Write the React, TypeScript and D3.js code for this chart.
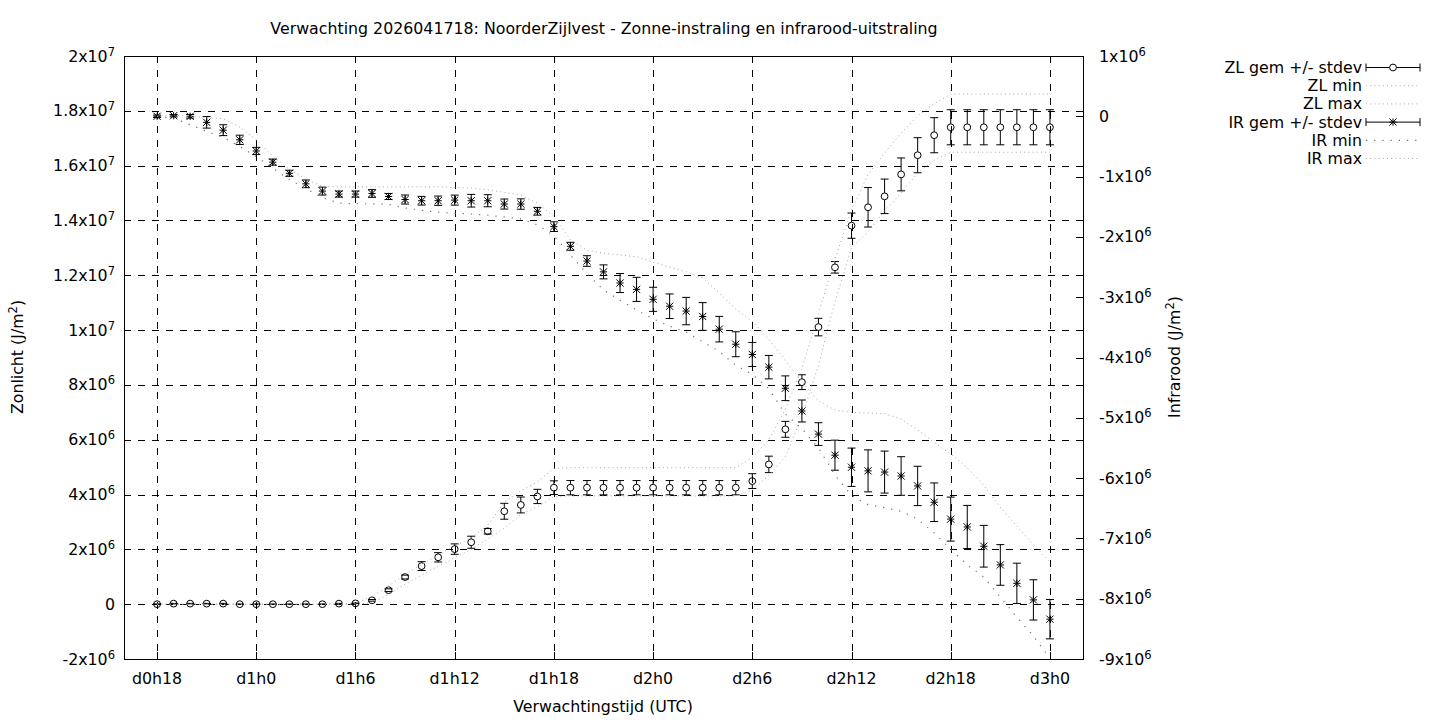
import React from 'react';
import * as d3 from 'd3';

const UNIT = 1e6;
const FONT = '"DejaVu Sans", Verdana, sans-serif';
const FS = 15.8;
const FS_SUP = 11.5;

const TITLE = 'Verwachting 2026041718: NoorderZijlvest - Zonne-instraling en infrarood-uitstraling';

// forecast hours since d0h0
const hours = [
  18, 19, 20, 21, 22, 23, 24, 25, 26, 27, 28, 29, 30, 31, 32, 33, 34, 35, 36,
  37, 38, 39, 40, 41, 42, 43, 44, 45, 46, 47, 48, 49, 50, 51, 52, 53, 54, 55,
  56, 57, 58, 59, 60, 61, 62, 63, 64, 65, 66, 67, 68, 69, 70, 71, 72,
];

// Zonlicht (x 1e6 J/m2)
const zlMean = [
  0, 0.02, 0.02, 0.02, 0.02, 0, 0, 0, 0, 0, 0, 0.02, 0.03, 0.14, 0.51, 0.99, 1.39, 1.71, 2.01,
  2.26, 2.66, 3.39, 3.62, 3.93, 4.25, 4.25, 4.25, 4.25, 4.25, 4.25, 4.25, 4.25, 4.25, 4.25, 4.25, 4.25, 4.49, 5.10,
  6.38, 8.10, 10.11, 12.29, 13.81, 14.48, 14.88, 15.68, 16.38, 17.11, 17.40, 17.40, 17.40, 17.40, 17.40, 17.40, 17.40,
];
const zlSd = [
  0.01, 0.01, 0.01, 0.01, 0.01, 0.01, 0.01, 0.01, 0.01, 0.01, 0.01, 0.01, 0.01, 0.03, 0.05, 0.07, 0.16, 0.17, 0.19,
  0.22, 0.10, 0.29, 0.29, 0.26, 0.25, 0.26, 0.26, 0.26, 0.26, 0.26, 0.26, 0.26, 0.26, 0.26, 0.26, 0.26, 0.27, 0.30,
  0.29, 0.27, 0.32, 0.21, 0.46, 0.72, 0.63, 0.60, 0.64, 0.64, 0.64, 0.64, 0.64, 0.64, 0.64, 0.64, 0.64,
];
const zlMin = [
  0, 0, 0, 0, 0, 0, 0, 0, 0, 0, 0, 0, 0, 0.05, 0.36, 0.73, 1.06, 1.39, 1.70,
  2.00, 2.38, 2.77, 3.27, 3.55, 3.92, 3.95, 3.95, 3.95, 3.95, 3.95, 3.95, 3.95, 3.95, 3.95, 3.95, 3.95, 4.17, 4.70,
  5.38, 6.84, 8.72, 11.04, 13.00, 13.58, 14.35, 15.00, 15.73, 16.20, 16.49, 16.49, 16.49, 16.49, 16.49, 16.49, 16.49,
];
const zlMax = [
  0, 0, 0, 0, 0, 0, 0, 0, 0, 0, 0, 0.01, 0.03, 0.28, 0.66, 1.08, 1.45, 1.81, 2.12,
  2.42, 2.88, 3.72, 4.14, 4.46, 4.96, 4.98, 4.98, 4.98, 4.98, 4.98, 4.98, 4.98, 4.98, 4.98, 4.98, 4.98, 5.35, 6.00,
  7.12, 8.59, 10.60, 12.60, 14.37, 15.68, 16.46, 17.19, 17.81, 18.26, 18.61, 18.61, 18.61, 18.61, 18.61, 18.61, 18.61,
];

// Infrarood (x 1e6 J/m2)
const irMean = [
  0.0, 0.01, 0.0, -0.10, -0.23, -0.39, -0.575, -0.76, -0.945, -1.12, -1.24, -1.29, -1.29, -1.28, -1.33, -1.38, -1.40, -1.40, -1.39,
  -1.40, -1.40, -1.455, -1.455, -1.575, -1.83, -2.156, -2.40, -2.58, -2.765, -2.87, -3.035, -3.15, -3.23, -3.32, -3.53, -3.78, -3.95, -4.16,
  -4.51, -4.887, -5.27, -5.62, -5.82, -5.88, -5.90, -5.965, -6.13, -6.40, -6.68, -6.81, -7.13, -7.44, -7.745, -8.02, -8.34,
];
const irSd = [
  0.02, 0.02, 0.03, 0.096, 0.09, 0.077, 0.06, 0.05, 0.05, 0.064, 0.066, 0.05, 0.05, 0.064, 0.05, 0.075, 0.072, 0.077, 0.083,
  0.105, 0.10, 0.083, 0.086, 0.064, 0.08, 0.066, 0.088, 0.116, 0.158, 0.20, 0.20, 0.204, 0.227, 0.23, 0.212, 0.207, 0.20, 0.194,
  0.205, 0.182, 0.188, 0.249, 0.318, 0.348, 0.348, 0.32, 0.326, 0.32, 0.365, 0.357, 0.346, 0.337, 0.334, 0.334, 0.326,
];
const irMin = [
  0.0, -0.03, -0.14, -0.25, -0.35, -0.50, -0.67, -0.86, -1.05, -1.20, -1.35, -1.44, -1.45, -1.45, -1.46, -1.52, -1.56, -1.59, -1.61,
  -1.62, -1.64, -1.67, -1.70, -1.80, -1.98, -2.30, -2.61, -2.88, -3.05, -3.21, -3.36, -3.48, -3.58, -3.74, -3.90, -4.13, -4.28, -4.52,
  -4.94, -5.18, -5.50, -5.95, -6.29, -6.44, -6.49, -6.55, -6.68, -6.91, -7.18, -7.44, -7.64, -7.97, -8.31, -8.62, -8.99,
];
const irMax = [
  0.0, 0.02, 0.0, -0.02, -0.04, -0.18, -0.39, -0.66, -0.88, -1.04, -1.16, -1.17, -1.17, -1.17, -1.17, -1.17, -1.17, -1.17, -1.18,
  -1.19, -1.22, -1.26, -1.31, -1.44, -1.66, -2.05, -2.22, -2.27, -2.30, -2.33, -2.42, -2.50, -2.58, -2.68, -2.93, -3.20, -3.40, -3.70,
  -4.05, -4.40, -4.72, -4.87, -4.91, -4.92, -4.93, -5.02, -5.20, -5.41, -5.60, -5.83, -6.12, -6.48, -6.80, -7.10, -7.39,
];

const xTickHours = [18, 24, 30, 36, 42, 48, 54, 60, 66, 72];
const yLeftTicks = [-2e6, 0, 2e6, 4e6, 6e6, 8e6, 1e7, 1.2e7, 1.4e7, 1.6e7, 1.8e7, 2e7];
const yRightTicks = [-9e6, -8e6, -7e6, -6e6, -5e6, -4e6, -3e6, -2e6, -1e6, 0, 1e6];
const legendLabels = ['ZL gem +/- stdev', 'ZL min', 'ZL max', 'IR gem +/- stdev', 'IR min', 'IR max'];

const FINE_DOT = { stroke: '#a8a8a8', dash: '1,3.2' };
const COARSE_DOT = { stroke: '#707070', dash: '1.2,7' };

function sci(v: number) {
  if (v === 0) return { m: '0', e: '' };
  const e = Math.floor(Math.log10(Math.abs(v)) + 1e-9);
  const m = +(v / Math.pow(10, e)).toFixed(2);
  return { m: `${m}x10`, e: String(e) };
}

function hourLabel(h: number) {
  return `d${Math.floor(h / 24)}h${h % 24}`;
}

function Circle({ cx, cy }: { cx: number; cy: number }) {
  return <circle cx={cx} cy={cy} r={3.4} fill="none" stroke="#000" strokeWidth={1} />;
}

function Star({ cx, cy }: { cx: number; cy: number }) {
  const s = 3.6;
  const d = `M${cx - s},${cy}H${cx + s}M${cx},${cy - s}V${cy + s}M${cx - s},${cy - s}L${cx + s},${cy + s}M${cx - s},${cy + s}L${cx + s},${cy - s}`;
  return <path d={d} stroke="#000" strokeWidth={1} fill="none" />;
}

export default function App() {
  const W = 1440, H = 720;
  const L = 124, R = 1083, T = 56, B = 659;
  const x = d3.scaleLinear().domain([16, 74]).range([L, R]);
  const yL = d3.scaleLinear().domain([-2e6, 2e7]).range([B, T]);
  const yR = d3.scaleLinear().domain([-9e6, 1e6]).range([B, T]);
  const TICK = 7;
  const CAP = 4;

  const lineL = d3.line<number>().x((_, i) => x(hours[i])).y((d) => yL(d * UNIT));
  const lineR = d3.line<number>().x((_, i) => x(hours[i])).y((d) => yR(d * UNIT));

  const crisp = (v: number) => Math.round(v) + 0.5;

  const errBar = (cx: number, lo: number, hi: number, gap: number, cy: number, key: string) => {
    const top = Math.min(lo, hi), bot = Math.max(lo, hi);
    let d = '';
    if (gap > 0) {
      if (cy - gap > top) d += `M${cx},${top}V${cy - gap}`;
      if (cy + gap < bot) d += `M${cx},${cy + gap}V${bot}`;
    } else {
      d += `M${cx},${top}V${bot}`;
    }
    d += `M${cx - CAP},${top}H${cx + CAP}M${cx - CAP},${bot}H${cx + CAP}`;
    return <path key={key} d={d} stroke="#000" strokeWidth={1} fill="none" />;
  };

  const legX0 = 1366, legX1 = 1420, legTextX = 1362;
  const legY = (i: number) => 67.5 + i * 18.2;

  return (
    <svg width={W} height={H} viewBox={`0 0 ${W} ${H}`}
      style={{ position: 'absolute', left: 0, top: 0, display: 'block', background: '#fff' }}
      fontFamily={FONT}>
      <rect x={0} y={0} width={W} height={H} fill="#fff" />
      {/* title */}
      <text x={604} y={34} fontSize={FS} textAnchor="middle" fill="#000">{TITLE}</text>

      {/* grid */}
      <g stroke="#000" strokeWidth={1} strokeDasharray="7,7" shapeRendering="crispEdges">
        {xTickHours.map((h) => (
          <line key={'gx' + h} x1={crisp(x(h))} x2={crisp(x(h))} y1={T} y2={B} />
        ))}
        {yLeftTicks.map((v) => (
          <line key={'gy' + v} x1={L} x2={R} y1={crisp(yL(v))} y2={crisp(yL(v))} />
        ))}
      </g>

      {/* ticks */}
      <g stroke="#000" strokeWidth={1} shapeRendering="crispEdges">
        {xTickHours.map((h) => (
          <g key={'tx' + h}>
            <line x1={crisp(x(h))} x2={crisp(x(h))} y1={B} y2={B - TICK} />
            <line x1={crisp(x(h))} x2={crisp(x(h))} y1={T} y2={T + TICK} />
          </g>
        ))}
        {yLeftTicks.map((v) => (
          <g key={'ty' + v}>
            <line x1={L} x2={L + TICK} y1={crisp(yL(v))} y2={crisp(yL(v))} />
            <line x1={R} x2={R - TICK} y1={crisp(yL(v))} y2={crisp(yL(v))} />
          </g>
        ))}
        {yRightTicks.map((v) => (
          <line key={'tr' + v} x1={R} x2={R - TICK} y1={crisp(yR(v))} y2={crisp(yR(v))} />
        ))}
      </g>

      {/* tick labels */}
      <g fontSize={FS} fill="#000">
        {yLeftTicks.map((v) => {
          const s = sci(v);
          return (
            <text key={'ly' + v} x={115} y={yL(v) + 5.5} textAnchor="end">
              {s.m}
              {s.e && <tspan dy={-6} fontSize={FS_SUP}>{s.e}</tspan>}
            </text>
          );
        })}
        {yRightTicks.map((v) => {
          const s = sci(v);
          return (
            <text key={'ry' + v} x={1099} y={yR(v) + 5.5} textAnchor="start">
              {s.m}
              {s.e && <tspan dy={-6} fontSize={FS_SUP}>{s.e}</tspan>}
            </text>
          );
        })}
        {xTickHours.map((h) => (
          <text key={'lx' + h} x={x(h)} y={684} textAnchor="middle">{hourLabel(h)}</text>
        ))}
      </g>

      {/* axis titles */}
      <g fontSize={FS} fill="#000">
        <text x={603} y={712} textAnchor="middle">Verwachtingstijd (UTC)</text>
        <text transform="translate(23,357) rotate(-90)" textAnchor="middle">
          Zonlicht (J/m<tspan dy={-6} fontSize={FS_SUP}>2</tspan><tspan dy={6}>)</tspan>
        </text>
        <text transform="translate(1180,357) rotate(-90)" textAnchor="middle">
          Infrarood (J/m<tspan dy={-6} fontSize={FS_SUP}>2</tspan><tspan dy={6}>)</tspan>
        </text>
      </g>

      {/* ZL mean +/- stdev */}
      <g>
        {zlMean.map((m, i) => {
          const cx = x(hours[i]);
          const cy = yL(m * UNIT);
          return (
            <g key={'zl' + i}>
              {errBar(cx, yL((m - zlSd[i]) * UNIT), yL((m + zlSd[i]) * UNIT), 3.4, cy, 'zle' + i)}
              <Circle cx={cx} cy={cy} />
            </g>
          );
        })}
      </g>
      {/* ZL min / max */}
      <path d={lineL(zlMin) || ''} fill="none" stroke={FINE_DOT.stroke} strokeWidth={1} strokeDasharray={FINE_DOT.dash} />
      <path d={lineL(zlMax) || ''} fill="none" stroke={FINE_DOT.stroke} strokeWidth={1} strokeDasharray={FINE_DOT.dash} />

      {/* IR mean +/- stdev */}
      <g>
        {irMean.map((m, i) => {
          const cx = x(hours[i]);
          const cy = yR(m * UNIT);
          return (
            <g key={'ir' + i}>
              {errBar(cx, yR((m - irSd[i]) * UNIT), yR((m + irSd[i]) * UNIT), 0, cy, 'ire' + i)}
              <Star cx={cx} cy={cy} />
            </g>
          );
        })}
      </g>
      {/* IR min / max */}
      <path d={lineR(irMin) || ''} fill="none" stroke={COARSE_DOT.stroke} strokeWidth={1.2} strokeDasharray={COARSE_DOT.dash} />
      <path d={lineR(irMax) || ''} fill="none" stroke={FINE_DOT.stroke} strokeWidth={1} strokeDasharray={FINE_DOT.dash} />

      {/* border */}
      <rect x={L + 0.5} y={T + 0.5} width={R - L} height={B - T} fill="none" stroke="#000" strokeWidth={1} shapeRendering="crispEdges" />

      {/* legend */}
      <g fontSize={FS} fill="#000">
        {legendLabels.map((lab, i) => {
          const yy = legY(i);
          const mid = (legX0 + legX1) / 2;
          let sample: React.ReactNode = null;
          if (i === 0 || i === 3) {
            sample = (
              <g>
                <path d={`M${legX0},${yy}H${legX1}M${legX0},${yy - CAP}V${yy + CAP}M${legX1},${yy - CAP}V${yy + CAP}`}
                  stroke="#000" strokeWidth={1} fill="none" />
                {i === 0 ? (
                  <circle cx={mid} cy={yy} r={3.4} fill="#fff" stroke="#000" strokeWidth={1} />
                ) : (
                  <Star cx={mid} cy={yy} />
                )}
              </g>
            );
          } else {
            const st = i === 4 ? COARSE_DOT : FINE_DOT;
            sample = (
              <line x1={legX0} x2={legX1} y1={yy} y2={yy} stroke={st.stroke}
                strokeWidth={i === 4 ? 1.2 : 1} strokeDasharray={st.dash} />
            );
          }
          return (
            <g key={'lg' + i}>
              <text x={legTextX} y={yy + 5.5} textAnchor="end">{lab}</text>
              {sample}
            </g>
          );
        })}
      </g>
    </svg>
  );
}
